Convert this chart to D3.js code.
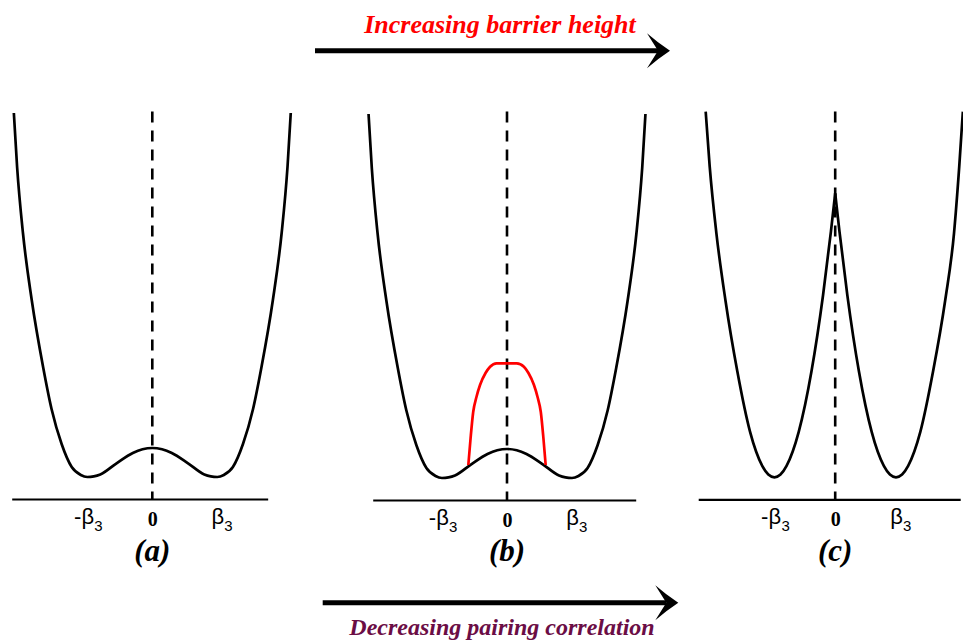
<!DOCTYPE html>
<html>
<head>
<meta charset="utf-8">
<script src="https://cdn.jsdelivr.net/npm/d3@7"></script>
<style>
  html, body { margin: 0; padding: 0; background: #fff; }
  svg { display: block; }
</style>
</head>
<body>
<svg id="chart" width="963" height="641"></svg>
<script>
// Double-well potential energy V(beta3), beta in units of the equilibrium deformation beta3.
// Panels (a) and (b): soft barrier between the two minima.
const betaSoft   = [-2.13, -2.08, -1.99, -1.855, -1.68, -1.55, -1.395, -1.24, -1.1, -1.0, -0.9, -0.8, -0.55, -0.3, -0.15, 0,
                     0.15, 0.3, 0.55, 0.8, 0.9, 1.0, 1.1, 1.24, 1.395, 1.55, 1.68, 1.855, 1.99, 2.08, 2.13];
const energySoft = [3.86, 3.32, 2.66, 1.99, 1.32, 0.9, 0.55, 0.32, 0.24, 0.22, 0.226, 0.245, 0.357, 0.46, 0.497, 0.51,
                     0.497, 0.46, 0.357, 0.245, 0.226, 0.22, 0.24, 0.32, 0.55, 0.9, 1.32, 1.99, 2.66, 3.32, 3.86];

// Panel (b): raised barrier once pairing is weakened.
const betaRaised   = [-0.595, -0.56, -0.52, -0.47, -0.415, -0.33, -0.26, -0.16, 0, 0.15, 0.26, 0.33, 0.415, 0.47, 0.52, 0.56, 0.595];
const energyRaised = [0.35, 0.62, 0.88, 1.03, 1.15, 1.27, 1.333, 1.367, 1.367, 1.367, 1.333, 1.27, 1.15, 1.03, 0.88, 0.62, 0.35];

// Panel (c): two separate wells meeting in a cusp at beta = 0.
const betaLeftWell   = [-2.13, -2.064, -1.954, -1.806, -1.61, -1.4, -1.2, -1.1, -1.0, -0.9, -0.8, -0.6, -0.39, -0.2, -0.07, 0];
const energyLeftWell = [3.876, 3.326, 2.66, 1.993, 1.28, 0.674, 0.334, 0.248, 0.22, 0.248, 0.334, 0.674, 1.28, 2.04, 2.68, 3.06];
const betaRightWell   = [0, 0.07, 0.2, 0.39, 0.6, 0.8, 0.9, 1.0, 1.1, 1.2, 1.4, 1.61, 1.81, 1.954, 2.04, 2.1];
const energyRightWell = [3.06, 2.68, 2.04, 1.28, 0.674, 0.334, 0.248, 0.22, 0.248, 0.334, 0.674, 1.28, 1.993, 2.66, 3.326, 3.876];

// Axis ticks
const tickValues = [-1, 0, 1];
const tickMain   = ["-\u03B2", "0", "\u03B2"];
const tickSub    = ["3", "", "3"];
const panelNames = ["(a)", "(b)", "(c)"];

// Layout of the three panels (pixel centre, pixels per beta3, baseline, axis extent in beta)
const layout = [
  { cx: 152.3, unit: 65,   base: 499,   extent: [-2.163, 1.775] },
  { cx: 507,   unit: 65,   base: 500,   extent: [-2.066, 1.98] },
  { cx: 835.2, unit: 60.8, base: 499.3, extent: [-2.253, 2.056] }
];
const topY = 111.5;
const vUnit = 100;

const svg = d3.select("#chart");
const toPts = (bs, vs) => bs.map((b, i) => [b, vs[i]]);

const curves = [
  [{ pts: toPts(betaSoft, energySoft), color: "#000" }],
  [{ pts: toPts(betaSoft, energySoft), color: "#000" },
   { pts: toPts(betaRaised, energyRaised), color: "#ff0000" }],
  [{ pts: toPts(betaLeftWell, energyLeftWell), color: "#000" },
   { pts: toPts(betaRightWell, energyRightWell), color: "#000" }]
];

const betaFont = "'Liberation Sans', Arial, sans-serif";
const serifFont = "'Liberation Serif', 'Times New Roman', serif";

layout.forEach((p, k) => {
  const x = d3.scaleLinear().domain([-1, 1]).range([p.cx - p.unit, p.cx + p.unit]);
  const y = d3.scaleLinear().domain([0, 1]).range([p.base, p.base - vUnit]);
  const g = svg.append("g");

  // vertical dashed symmetry line
  g.append("line")
    .attr("x1", x(0)).attr("x2", x(0))
    .attr("y1", topY).attr("y2", p.base)
    .attr("stroke", "#000").attr("stroke-width", 2.6)
    .attr("stroke-dasharray", "11,8");

  // horizontal axis
  const axisScale = d3.scaleLinear().domain(p.extent).range(p.extent.map(x));
  const ax = g.append("g")
    .attr("transform", `translate(0,${p.base})`)
    .call(d3.axisBottom(axisScale).tickValues(tickValues).tickSize(0).tickFormat(""));
  ax.select(".domain").attr("stroke", "#000").attr("stroke-width", 2.2);

  ax.selectAll(".tick").each(function(d, i) {
    const t = d3.select(this);
    t.select("text").remove();
    if (tickMain[i] === "0") {
      t.append("text")
        .attr("y", 27)
        .attr("text-anchor", "middle")
        .attr("font-family", serifFont)
        .attr("font-weight", "bold")
        .attr("font-size", 20)
        .attr("fill", "#000")
        .text("0");
    } else {
      // the beta glyph sits centred on the tick, minus sign before it, subscript after
      const g2 = t.append("g");
      g2.append("text")
        .attr("x", 0).attr("y", 25)
        .attr("text-anchor", "middle")
        .attr("font-family", betaFont).attr("font-size", 22)
        .attr("fill", "#000")
        .text("\u03B2");
      if (tickMain[i].startsWith("-")) {
        g2.append("text")
          .attr("x", -6.5).attr("y", 25)
          .attr("text-anchor", "end")
          .attr("font-family", betaFont).attr("font-size", 22)
          .attr("fill", "#000")
          .text("-");
      }
      g2.append("text")
        .attr("x", 6.5).attr("y", 32)
        .attr("text-anchor", "start")
        .attr("font-family", betaFont).attr("font-size", 15)
        .attr("fill", "#000")
        .text(tickSub[i]);
    }
  });

  // potential curves
  const line = d3.line()
    .x(d => x(d[0])).y(d => y(d[1]))
    .curve(d3.curveMonotoneX);
  curves[k].forEach(c => {
    g.append("path")
      .attr("d", line(c.pts))
      .attr("fill", "none")
      .attr("stroke", c.color)
      .attr("stroke-width", 2.7)
      .attr("stroke-linejoin", "round");
  });

  // panel label
  g.append("text")
    .attr("x", x(0)).attr("y", 561)
    .attr("text-anchor", "middle")
    .attr("font-family", serifFont)
    .attr("font-weight", "bold").attr("font-style", "italic")
    .attr("font-size", 31)
    .attr("fill", "#000")
    .text(panelNames[k]);
});

// trend arrows
function arrow(x0, x1, yy, half) {
  svg.append("line")
    .attr("x1", x0).attr("x2", x1 - 12).attr("y1", yy).attr("y2", yy)
    .attr("stroke", "#000").attr("stroke-width", 5);
  const back = x1 - 23;
  svg.append("path")
    .attr("d", `M${x1},${yy} Q${x1 - 12},${yy - half * 0.45} ${back},${yy - half}
                L${x1 - 12},${yy} L${back},${yy + half}
                Q${x1 - 12},${yy + half * 0.45} ${x1},${yy} Z`)
    .attr("fill", "#000");
}
arrow(315, 670, 50.7, 17.5);
arrow(322.7, 678.3, 602.7, 17.5);

svg.append("text")
  .attr("x", 500).attr("y", 33)
  .attr("text-anchor", "middle")
  .attr("font-family", serifFont)
  .attr("font-weight", "bold").attr("font-style", "italic")
  .attr("font-size", 26)
  .attr("fill", "#ff0000")
  .text("Increasing barrier height");

svg.append("text")
  .attr("x", 502).attr("y", 635)
  .attr("text-anchor", "middle")
  .attr("font-family", serifFont)
  .attr("font-weight", "bold").attr("font-style", "italic")
  .attr("font-size", 24)
  .attr("fill", "#6b0d45")
  .text("Decreasing pairing correlation");
</script>
</body>
</html>
